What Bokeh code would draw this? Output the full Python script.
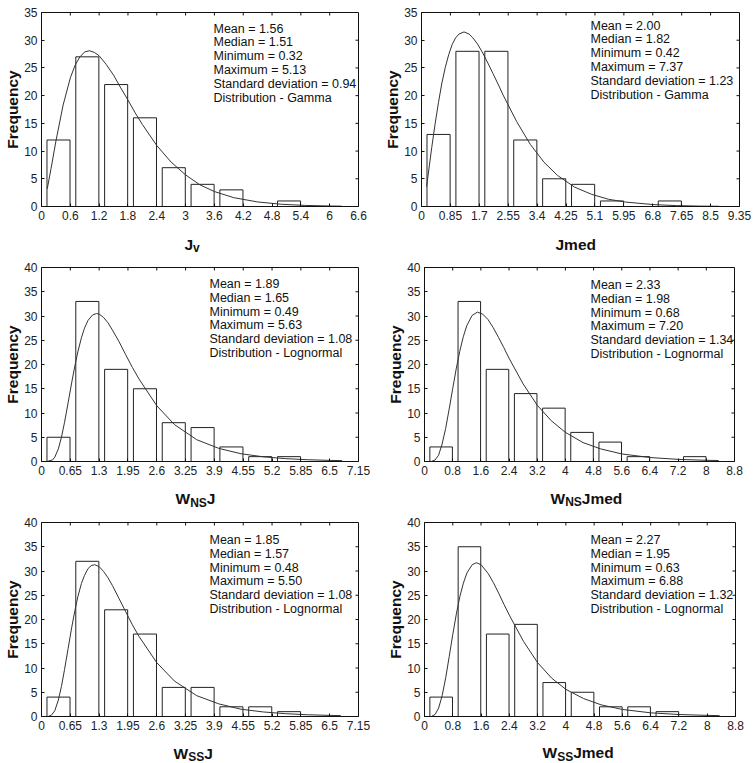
import math
from bokeh.plotting import figure
from bokeh.models import FixedTicker, Label, Range1d, NumeralTickFormatter
from bokeh.core.properties import value
from bokeh.layouts import column, row
from bokeh.embed import file_html
from bokeh.resources import INLINE

FONT = "Liberation Sans"

# ---------------- data ----------------
# Panel 1: Jv
jv_bin_width = 0.6
jv_counts = [12, 27, 22, 16, 7, 4, 3, 0, 1]
jv_curve_x = [0.12, 0.2, 0.3, 0.45, 0.6, 0.7, 0.8, 0.9, 1.0, 1.1, 1.2, 1.35, 1.5, 1.65, 1.8, 1.95, 2.1, 2.4, 2.7, 3.0, 3.3, 3.6, 4.0, 4.5, 5.0, 5.5, 6.0, 6.25]
jv_curve_y = [3.2, 6.9, 11.8, 18.3, 23.2, 25.5, 27.0, 27.9, 28.1, 27.8, 27.2, 25.6, 23.7, 21.4, 19.2, 16.9, 14.8, 11.0, 8.0, 5.7, 3.9, 2.7, 1.6, 0.82, 0.4, 0.19, 0.09, 0.06]
jv_xticks = [0, 0.6, 1.2, 1.8, 2.4, 3, 3.6, 4.2, 4.8, 5.4, 6, 6.6]
jv_yticks = [0, 5, 10, 15, 20, 25, 30, 35]
jv_stats = ["Mean = 1.56", "Median = 1.51", "Minimum = 0.32", "Maximum = 5.13",
            "Standard deviation = 0.94", "Distribution - Gamma"]

# Panel 2: Jmed
jmed_bin_width = 0.85
jmed_counts = [13, 28, 28, 12, 5, 4, 1, 0, 1]
jmed_curve_x = [0.15, 0.3, 0.4, 0.5, 0.6, 0.7, 0.8, 0.9, 1.0, 1.1, 1.25, 1.4, 1.5, 1.65, 1.8, 1.95, 2.1, 2.25, 2.4, 2.8, 3.2, 3.6, 4.0, 4.5, 5.0, 5.5, 6.0, 6.8, 7.5, 8.2, 8.75]
jmed_curve_y = [3.6, 10.6, 14.9, 18.8, 22.3, 25.1, 27.4, 29.2, 30.4, 31.1, 31.5, 31.1, 30.5, 29.3, 27.7, 25.9, 24.0, 22.1, 20.1, 15.3, 11.2, 8.0, 5.6, 3.5, 2.2, 1.3, 0.8, 0.35, 0.16, 0.07, 0.04]
jmed_xticks = [0, 0.85, 1.7, 2.55, 3.4, 4.25, 5.1, 5.95, 6.8, 7.65, 8.5, 9.35]
jmed_yticks = [0, 5, 10, 15, 20, 25, 30, 35]
jmed_stats = ["Mean = 2.00", "Median = 1.82", "Minimum = 0.42", "Maximum = 7.37",
              "Standard deviation = 1.23", "Distribution - Gamma"]

# Panel 3: W_NS J
wnsj_bin_width = 0.65
wnsj_counts = [5, 33, 19, 15, 8, 7, 3, 1, 1]
wnsj_curve_x = [0.12, 0.25, 0.3, 0.38, 0.45, 0.52, 0.6, 0.68, 0.75, 0.82, 0.9, 0.97, 1.05, 1.15, 1.24, 1.3, 1.4, 1.5, 1.6, 1.75, 1.9, 2.05, 2.2, 2.6, 3.0, 3.5, 4.0, 4.5, 5.0, 5.5, 6.0, 6.5, 6.78]
wnsj_curve_y = [0.0, 0.33, 0.9, 2.6, 5.0, 8.1, 12.1, 16.2, 19.6, 22.6, 25.5, 27.5, 29.1, 30.2, 30.5, 30.4, 29.7, 28.6, 27.1, 24.7, 22.0, 19.4, 17.0, 11.5, 7.6, 4.5, 2.7, 1.6, 0.97, 0.59, 0.37, 0.23, 0.18]
wnsj_xticks = [0, 0.65, 1.3, 1.95, 2.6, 3.25, 3.9, 4.55, 5.2, 5.85, 6.5, 7.15]
wnsj_yticks = [0, 5, 10, 15, 20, 25, 30, 35, 40]
wnsj_stats = ["Mean = 1.89", "Median = 1.65", "Minimum = 0.49", "Maximum = 5.63",
              "Standard deviation = 1.08", "Distribution - Lognormal"]

# Panel 4: W_NS Jmed
wnsjmed_bin_width = 0.8
wnsjmed_counts = [3, 33, 19, 14, 11, 6, 4, 1, 0, 1]
wnsjmed_curve_x = [0.2, 0.3, 0.4, 0.5, 0.6, 0.7, 0.8, 0.9, 1.0, 1.1, 1.2, 1.35, 1.5, 1.65, 1.8, 1.95, 2.1, 2.25, 2.4, 2.8, 3.2, 3.6, 4.0, 4.5, 5.0, 5.6, 6.4, 7.2, 8.0, 8.35]
wnsjmed_curve_y = [0.02, 0.31, 1.3, 3.6, 6.8, 10.8, 15.0, 19.1, 22.7, 25.7, 28.0, 30.1, 30.8, 30.4, 29.3, 27.6, 25.6, 23.5, 21.3, 16.0, 11.6, 8.4, 6.0, 3.9, 2.6, 1.56, 0.82, 0.44, 0.25, 0.2]
wnsjmed_xticks = [0, 0.8, 1.6, 2.4, 3.2, 4, 4.8, 5.6, 6.4, 7.2, 8, 8.8]
wnsjmed_yticks = [0, 5, 10, 15, 20, 25, 30, 35, 40]
wnsjmed_stats = ["Mean = 2.33", "Median = 1.98", "Minimum = 0.68", "Maximum = 7.20",
                 "Standard deviation = 1.34", "Distribution - Lognormal"]

# Panel 5: W_SS J
wssj_bin_width = 0.65
wssj_counts = [4, 32, 22, 17, 6, 6, 2, 2, 1]
wssj_curve_x = [0.15, 0.22, 0.3, 0.38, 0.45, 0.52, 0.6, 0.68, 0.75, 0.82, 0.9, 0.97, 1.05, 1.12, 1.2, 1.3, 1.4, 1.5, 1.6, 1.75, 1.9, 2.05, 2.2, 2.6, 3.0, 3.5, 4.0, 4.5, 5.0, 5.5, 6.0, 6.5, 6.75]
wssj_curve_y = [0.02, 0.24, 1.2, 3.4, 6.2, 9.7, 14.0, 18.3, 21.7, 24.7, 27.4, 29.1, 30.5, 31.1, 31.3, 30.9, 29.9, 28.6, 27.0, 24.3, 21.6, 18.9, 16.5, 11.1, 7.3, 4.3, 2.6, 1.5, 0.94, 0.58, 0.36, 0.23, 0.18]
wssj_xticks = [0, 0.65, 1.3, 1.95, 2.6, 3.25, 3.9, 4.55, 5.2, 5.85, 6.5, 7.15]
wssj_yticks = [0, 5, 10, 15, 20, 25, 30, 35, 40]
wssj_stats = ["Mean = 1.85", "Median = 1.57", "Minimum = 0.48", "Maximum = 5.50",
              "Standard deviation = 1.08", "Distribution - Lognormal"]

# Panel 6: W_SS Jmed
wssjmed_bin_width = 0.8
wssjmed_counts = [4, 35, 17, 19, 7, 5, 2, 2, 1]
wssjmed_curve_x = [0.2, 0.3, 0.4, 0.5, 0.6, 0.7, 0.8, 0.9, 1.0, 1.1, 1.2, 1.35, 1.47, 1.6, 1.8, 1.95, 2.1, 2.25, 2.4, 2.8, 3.2, 3.6, 4.0, 4.5, 5.0, 5.6, 6.4, 7.2, 8.0, 8.35]
wssjmed_curve_y = [0.03, 0.42, 1.75, 4.3, 8.0, 12.4, 16.9, 21.1, 24.7, 27.5, 29.6, 31.3, 31.7, 31.3, 29.5, 27.6, 25.4, 23.1, 20.9, 15.5, 11.1, 7.9, 5.6, 3.7, 2.4, 1.45, 0.76, 0.41, 0.23, 0.18]
wssjmed_xticks = [0, 0.8, 1.6, 2.4, 3.2, 4, 4.8, 5.6, 6.4, 7.2, 8, 8.8]
wssjmed_yticks = [0, 5, 10, 15, 20, 25, 30, 35, 40]
wssjmed_stats = ["Mean = 2.27", "Median = 1.95", "Minimum = 0.63", "Maximum = 6.88",
                 "Standard deviation = 1.32", "Distribution - Lognormal"]

# x-axis label pieces: (text, is_subscript)
jv_label = [("J", False), ("v", True)]
jmed_label = [("Jmed", False)]
wnsj_label = [("W", False), ("NS", True), ("J", False)]
wnsjmed_label = [("W", False), ("NS", True), ("Jmed", False)]
wssj_label = [("W", False), ("SS", True), ("J", False)]
wssjmed_label = [("W", False), ("SS", True), ("Jmed", False)]

# approximate bold Arial advance widths (em)
ADV = {"J": 0.556, "v": 0.556, "m": 0.889, "e": 0.556, "d": 0.611,
       "W": 0.944, "N": 0.722, "S": 0.667}
MAIN_SIZE = 15.5
SUB_SIZE = 12.0


def make_panel(height, borders, bin_w, counts, cx, cy, xticks, yticks, stats, stats_pos):
    bl, br, bt, bb = borders
    xmin, xmax = xticks[0], xticks[-1]
    ymin, ymax = yticks[0], yticks[-1]
    p = figure(width=377, height=height, output_backend="svg", toolbar_location=None,
               x_range=Range1d(xmin, xmax), y_range=Range1d(ymin, ymax),
               min_border_left=bl, min_border_right=br, min_border_top=bt, min_border_bottom=bb)
    p.background_fill_color = "white"
    p.border_fill_color = "white"
    p.grid.visible = False
    p.outline_line_color = "#111111"
    p.outline_line_width = 1

    lefts = [i * bin_w + 0.19 * bin_w for i in range(len(counts))]
    rights = [i * bin_w + 0.99 * bin_w for i in range(len(counts))]
    p.quad(left=lefts, right=rights, bottom=[0] * len(counts), top=counts,
           fill_color="white", line_color="#222222", line_width=1)
    p.line(cx, cy, line_color="#333333", line_width=1)

    # inward tick marks on the top and right frame edges
    p.ray(x=xticks[1:-1], y=[ymax] * (len(xticks) - 2), length=3, length_units="screen",
          angle=-math.pi / 2, line_color="#111111", line_width=1)
    p.ray(x=[xmax] * (len(yticks) - 2), y=yticks[1:-1], length=3, length_units="screen",
          angle=math.pi, line_color="#111111", line_width=1)

    for ax in (p.xaxis[0], p.yaxis[0]):
        ax.major_tick_in = 3
        ax.major_tick_out = 0
        ax.minor_tick_in = 0
        ax.minor_tick_out = 0
        ax.axis_line_color = "#111111"
        ax.major_tick_line_color = "#111111"
        ax.major_label_text_font = FONT
        ax.major_label_text_font_size = "12px"
        ax.major_label_text_color = "#222222"
        ax.major_label_standoff = 4
    p.xaxis[0].ticker = FixedTicker(ticks=xticks)
    p.xaxis[0].formatter = NumeralTickFormatter(format="0.[00]")
    p.yaxis[0].ticker = FixedTicker(ticks=yticks)
    p.yaxis[0].axis_label = "Frequency"
    p.yaxis[0].axis_label_text_font = FONT
    p.yaxis[0].axis_label_text_font_size = "15.5px"
    p.yaxis[0].axis_label_text_font_style = "bold"
    p.yaxis[0].axis_label_text_color = "#111111"
    p.yaxis[0].axis_label_standoff = 0

    sx, sy = stats_pos
    for i, line in enumerate(stats):
        p.add_layout(Label(x=sx, y=sy - i * 13.8, x_units="screen", y_units="screen",
                           text=line, text_font=FONT, text_font_size="12.5px",
                           text_color="#111111", text_baseline="alphabetic", text_align="left"))
    return p


def make_strip(height, label_parts, start_x, baseline_y):
    s = figure(width=377, height=height, output_backend="svg", toolbar_location=None,
               x_range=Range1d(0, 377), y_range=Range1d(0, height),
               x_axis_type=None, y_axis_type=None,
               min_border=0, min_border_left=0, min_border_right=0,
               min_border_top=0, min_border_bottom=0)
    s.grid.visible = False
    s.outline_line_color = None
    s.background_fill_color = "white"
    s.border_fill_color = "white"
    x = start_x
    for text, sub in label_parts:
        size = SUB_SIZE if sub else MAIN_SIZE
        yy = baseline_y - 4 if sub else baseline_y
        s.text(x=[x], y=[yy], text=[text], text_font=value(FONT), text_font_size=f"{size}px",
               text_font_style="bold", text_color="#111111", text_baseline="alphabetic",
               text_align="left")
        x += sum(ADV.get(c, 0.6) for c in text) * size
    return s


p1 = make_panel(228, (41, 19, 12, 22), jv_bin_width, jv_counts, jv_curve_x, jv_curve_y,
                jv_xticks, jv_yticks, jv_stats, (172, 178))
p2 = make_panel(228, (44, 15, 12, 19), jmed_bin_width, jmed_counts, jmed_curve_x, jmed_curve_y,
                jmed_xticks, jmed_yticks, jmed_stats, (169, 181))
p3 = make_panel(229, (41, 19, 12, 22), wnsj_bin_width, wnsj_counts, wnsj_curve_x, wnsj_curve_y,
                wnsj_xticks, wnsj_yticks, wnsj_stats, (168, 177.5))
p4 = make_panel(229, (47, 20, 13, 22), wnsjmed_bin_width, wnsjmed_counts, wnsjmed_curve_x, wnsjmed_curve_y,
                wnsjmed_xticks, wnsjmed_yticks, wnsjmed_stats, (166, 176.5))
p5 = make_panel(229, (41, 19, 12, 22), wssj_bin_width, wssj_counts, wssj_curve_x, wssj_curve_y,
                wssj_xticks, wssj_yticks, wssj_stats, (168, 176.5))
p6 = make_panel(229, (47, 19, 13, 22), wssjmed_bin_width, wssjmed_counts, wssjmed_curve_x, wssjmed_curve_y,
                wssjmed_xticks, wssjmed_yticks, wssjmed_stats, (166, 176.5))

s1 = make_strip(26, jv_label, 184, 10.5)
s2 = make_strip(26, jmed_label, 178, 10)
s3 = make_strip(26, wnsj_label, 175, 11)
s4 = make_strip(26, wnsjmed_label, 173, 11.5)
s5 = make_strip(25, wssj_label, 173, 10.5)
s6 = make_strip(25, wssjmed_label, 165, 11)

layout = column(row(p1, p2, spacing=0), row(s1, s2, spacing=0),
                row(p3, p4, spacing=0), row(s3, s4, spacing=0),
                row(p5, p6, spacing=0), row(s5, s6, spacing=0), spacing=0)

with open("out.html", "w") as f:
    f.write(file_html(layout, INLINE))
